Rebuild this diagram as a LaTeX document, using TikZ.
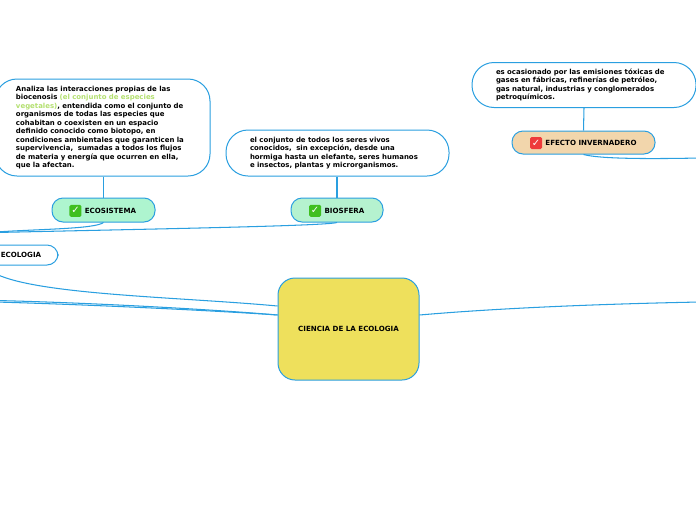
\documentclass[tikz,border=0pt]{standalone}
\usepackage{fontspec}
\setmainfont{DejaVu Sans}
\usepackage{xcolor}
\usetikzlibrary{positioning}
\definecolor{linkblue}{HTML}{2A9FE0}
\definecolor{leafgreen}{HTML}{B4E070}
\definecolor{mainyellow}{HTML}{EEE05C}
\definecolor{mintA}{HTML}{AEF5CF}
\definecolor{mintB}{HTML}{B5F2CF}
\definecolor{sand}{HTML}{F2D6AC}
\definecolor{okgreen}{HTML}{3FBF1F}
\definecolor{okred}{HTML}{EE3B3B}
\tikzset{
  link/.style={draw=linkblue, line width=1.05pt},
  txtbox/.style={draw=linkblue, line width=1pt, fill=white, rounded corners=22pt, align=left, font=\bfseries\fontsize{6.96}{8.5}\selectfont, inner ysep=0pt, inner xsep=0pt},
  tagbox/.style={draw=linkblue, line width=1pt, rounded corners=11pt, minimum height=24pt, inner sep=0pt},
  tagtxt/.style={font=\bfseries\fontsize{7.1}{8}\selectfont, inner sep=0pt},
  okicon/.style={fill=#1, rounded corners=1.5pt, minimum size=12pt, inner sep=0pt, text=white, font=\bfseries\fontsize{10}{10}\selectfont}
}
\begin{document}
\begin{tikzpicture}[x=1pt,y=-1pt]
\useasboundingbox (0,0) rectangle (696,520);

% free ends of the branches
\coordinate (offA) at (-4,232);
\coordinate (offB) at (-4,232.5);
\coordinate (offC) at (-4,300.5);
\coordinate (offD) at (-4,302);
\coordinate (offE) at (-4,274);
\coordinate (offF) at (700,302);
\coordinate (offG) at (700,158);

% boxes
\node[tagbox, fill=mainyellow, rounded corners=17pt, minimum width=141pt, minimum height=102pt, tagtxt] (main) at (348.5,329) {\raisebox{-1.5pt}{CIENCIA DE LA ECOLOGIA}};
\node[tagbox, fill=white, minimum width=74pt, minimum height=20pt, tagtxt] (ecologia) at (21,255) {\raisebox{-0.5pt}{ECOLOGIA}};

\node[tagbox, fill=mintA, minimum width=103pt] (ecosistema) at (103.5,210) {};
\node[tagtxt] (ecosistemaTxt) at (110.5,210.8) {ECOSISTEMA};
\node[okicon=okgreen, left=3pt of ecosistemaTxt] (ecosistemaOk) {✓};

\node[tagbox, fill=mintB, minimum width=92pt] (biosfera) at (337,210) {};
\node[tagtxt] (biosferaTxt) at (344.5,210.8) {BIOSFERA};
\node[okicon=okgreen, left=3pt of biosferaTxt] (biosferaOk) {✓};

\node[tagbox, fill=sand, minimum width=143pt, minimum height=23pt] (efecto) at (583.5,142.5) {};
\node[tagtxt] (efectoTxt) at (591,143) {EFECTO INVERNADERO};
\node[okicon=okred, left=3pt of efectoTxt] (efectoOk) {✓};

\node[txtbox, minimum width=215pt, minimum height=97pt, text width=173pt] (ecoText) at (102.5,127.5) {Analiza las interacciones propias de las\\
biocenosis {\color{leafgreen}(el conjunto de especies}\\
{\color{leafgreen}vegetales)}, entendida como el conjunto de\\
organismos de todas las especies que\\
cohabitan o coexisten en un espacio\\
definido conocido como biotopo, en\\
condiciones ambientales que garanticen la\\
supervivencia,\ \ sumadas a todos los flujos\\
de materia y energía que ocurren en ella,\\
que la afectan.};

\node[txtbox, minimum width=223pt, minimum height=46pt, text width=175pt] (bioText) at (337.5,153) {el conjunto de todos los seres vivos\\
conocidos,\ \ sin excepción, desde una\\
hormiga hasta un elefante, seres humanos\\
e insectos, plantas y microrganismos.};

\node[txtbox, minimum width=224pt, minimum height=45pt, text width=176pt] (efeText) at (584,85) {es ocasionado por las emisiones tóxicas de\\
gases en fábricas, refinerías de petróleo,\\
gas natural, industrias y conglomerados\\
petroquímicos.};

% connectors
\draw[link] (ecoText.south -| ecosistema.north) -- (ecosistema.north);
\draw[link] (bioText.south -| biosfera.north) -- (biosfera.north);
\draw[link] (efeText.south) -- (efecto.north);
\draw[link] (ecosistema.south) .. controls (95,229) and (40,229) .. (offA);
\draw[link] (biosfera.south) .. controls (325,226) and (150,229) .. (offB);
\draw[link] (efecto.south) .. controls (600,159) and (650,159) .. (offG);
\draw[link] ([yshift=23pt]main.west) .. controls (180,297) and (40,295) .. (offE);
\draw[link] ([yshift=14pt]main.west) .. controls (220,310) and (100,303) .. (offC);
\draw[link] ([yshift=14pt]main.west) .. controls (220,311) and (100,305) .. (offD);
\draw[link] ([yshift=14pt]main.east) .. controls (500,308) and (600,304) .. (offF);
\end{tikzpicture}
\end{document}
